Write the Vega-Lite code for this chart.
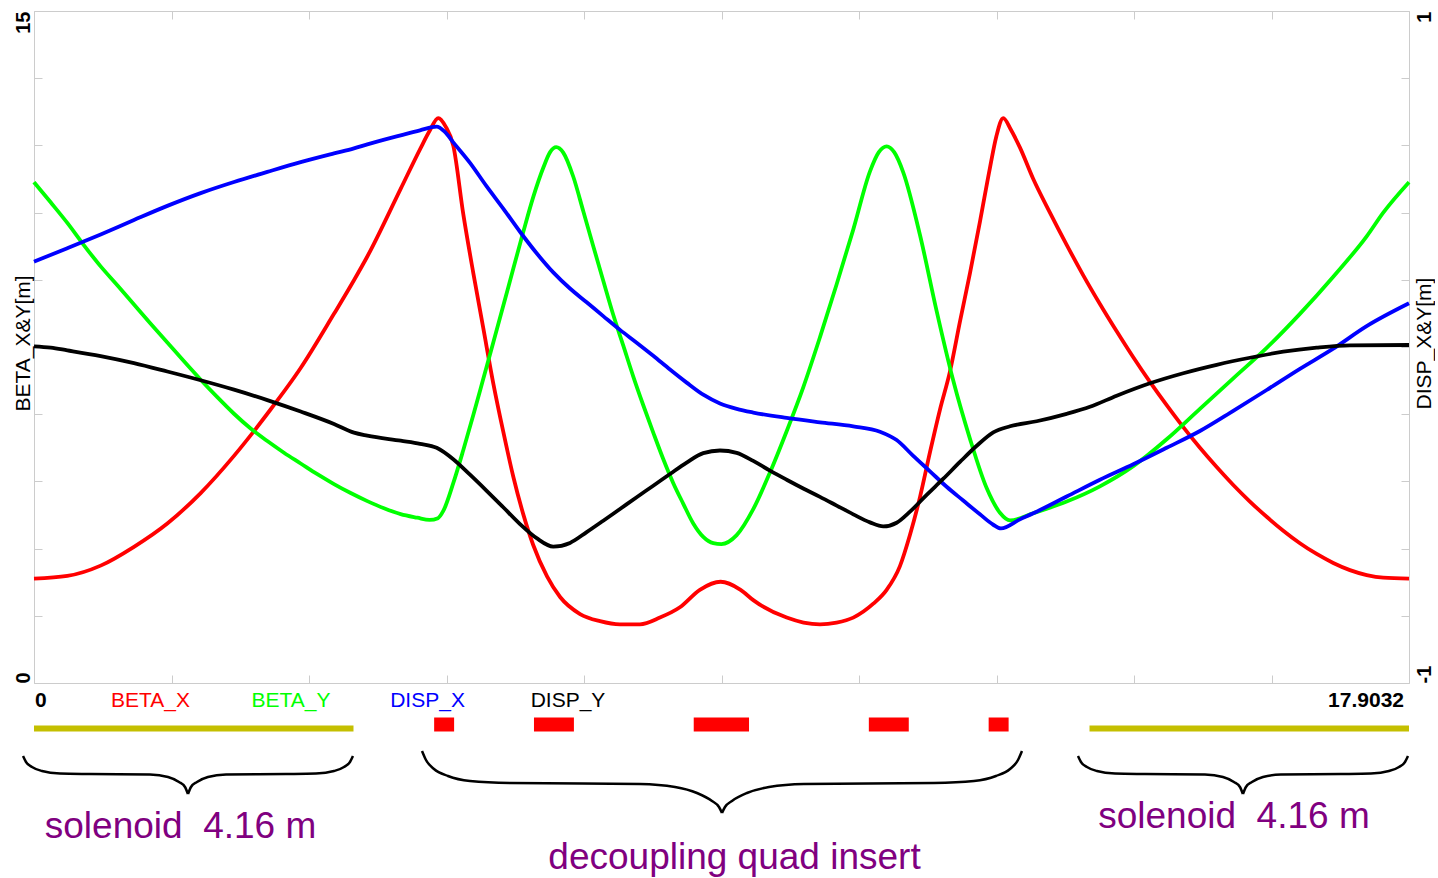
{
  "$schema": "https://vega.github.io/schema/vega-lite/v6.json",
  "background": "white",
  "padding": {"left": 12, "top": 10, "right": 0, "bottom": 0},
  "spacing": 0,
  "config": {"font": "Liberation Sans", "view": {"stroke": null}},
  "datasets": {
    "optics": [
      {"series":"BETA_X","s":0,"v":2.33},{"series":"BETA_X","s":0.434,"v":2.39},{"series":"BETA_X","s":0.868,"v":2.62},{"series":"BETA_X","s":1.302,"v":3.04},{"series":"BETA_X","s":1.736,"v":3.56},{"series":"BETA_X","s":2.17,"v":4.24},{"series":"BETA_X","s":2.604,"v":5.07},{"series":"BETA_X","s":3.038,"v":6.01},{"series":"BETA_X","s":3.472,"v":7.03},{"series":"BETA_X","s":3.906,"v":8.24},{"series":"BETA_X","s":4.166,"v":8.99},{"series":"BETA_X","s":4.34,"v":9.52},{"series":"BETA_X","s":4.774,"v":11.03},{"series":"BETA_X","s":5.034,"v":11.94},{"series":"BETA_X","s":5.15,"v":12.32},{"series":"BETA_X","s":5.264,"v":12.61},{"series":"BETA_X","s":5.36,"v":12.42},{"series":"BETA_X","s":5.46,"v":11.99},{"series":"BETA_X","s":5.59,"v":10.46},{"series":"BETA_X","s":5.72,"v":9.15},{"series":"BETA_X","s":5.85,"v":7.92},{"series":"BETA_X","s":5.98,"v":6.69},{"series":"BETA_X","s":6.11,"v":5.61},{"series":"BETA_X","s":6.24,"v":4.61},{"series":"BETA_X","s":6.37,"v":3.77},{"series":"BETA_X","s":6.5,"v":3.08},{"series":"BETA_X","s":6.68,"v":2.38},{"series":"BETA_X","s":6.85,"v":1.92},{"series":"BETA_X","s":7.11,"v":1.54},{"series":"BETA_X","s":7.37,"v":1.38},{"series":"BETA_X","s":7.63,"v":1.31},{"series":"BETA_X","s":7.89,"v":1.31},{"series":"BETA_X","s":8.15,"v":1.46},{"series":"BETA_X","s":8.41,"v":1.69},{"series":"BETA_X","s":8.67,"v":2.08},{"series":"BETA_X","s":8.94,"v":2.26},{"series":"BETA_X","s":9.2,"v":2.08},{"series":"BETA_X","s":9.365,"v":1.85},{"series":"BETA_X","s":9.8,"v":1.46},{"series":"BETA_X","s":10.02,"v":1.35},{"series":"BETA_X","s":10.234,"v":1.31},{"series":"BETA_X","s":10.45,"v":1.35},{"series":"BETA_X","s":10.667,"v":1.46},{"series":"BETA_X","s":10.928,"v":1.77},{"series":"BETA_X","s":11.102,"v":2.08},{"series":"BETA_X","s":11.275,"v":2.61},{"series":"BETA_X","s":11.406,"v":3.31},{"series":"BETA_X","s":11.536,"v":4.15},{"series":"BETA_X","s":11.666,"v":5.15},{"series":"BETA_X","s":11.796,"v":6.1},{"series":"BETA_X","s":11.926,"v":6.95},{"series":"BETA_X","s":12.057,"v":8.07},{"series":"BETA_X","s":12.187,"v":9.15},{"series":"BETA_X","s":12.317,"v":10.3},{"series":"BETA_X","s":12.447,"v":11.5},{"series":"BETA_X","s":12.53,"v":12.2},{"series":"BETA_X","s":12.62,"v":12.61},{"series":"BETA_X","s":12.72,"v":12.35},{"series":"BETA_X","s":12.838,"v":11.95},{"series":"BETA_X","s":13.011,"v":11.25},{"series":"BETA_X","s":13.228,"v":10.5},{"series":"BETA_X","s":13.446,"v":9.78},{"series":"BETA_X","s":13.662,"v":9.1},{"series":"BETA_X","s":13.879,"v":8.46},{"series":"BETA_X","s":14.097,"v":7.85},{"series":"BETA_X","s":14.313,"v":7.27},{"series":"BETA_X","s":14.53,"v":6.72},{"series":"BETA_X","s":14.748,"v":6.2},{"series":"BETA_X","s":14.964,"v":5.71},{"series":"BETA_X","s":15.181,"v":5.25},{"series":"BETA_X","s":15.399,"v":4.82},{"series":"BETA_X","s":15.615,"v":4.42},{"series":"BETA_X","s":15.832,"v":4.05},{"series":"BETA_X","s":16.05,"v":3.71},{"series":"BETA_X","s":16.266,"v":3.4},{"series":"BETA_X","s":16.483,"v":3.12},{"series":"BETA_X","s":16.701,"v":2.88},{"series":"BETA_X","s":16.917,"v":2.68},{"series":"BETA_X","s":17.134,"v":2.52},{"series":"BETA_X","s":17.352,"v":2.41},{"series":"BETA_X","s":17.568,"v":2.35},{"series":"BETA_X","s":17.9032,"v":2.33},
      {"series":"BETA_Y","s":0,"v":11.18},{"series":"BETA_Y","s":0.217,"v":10.73},{"series":"BETA_Y","s":0.434,"v":10.27},{"series":"BETA_Y","s":0.651,"v":9.77},{"series":"BETA_Y","s":0.868,"v":9.3},{"series":"BETA_Y","s":1.085,"v":8.88},{"series":"BETA_Y","s":1.302,"v":8.45},{"series":"BETA_Y","s":1.519,"v":8.02},{"series":"BETA_Y","s":1.736,"v":7.6},{"series":"BETA_Y","s":1.953,"v":7.18},{"series":"BETA_Y","s":2.17,"v":6.77},{"series":"BETA_Y","s":2.387,"v":6.38},{"series":"BETA_Y","s":2.604,"v":6.01},{"series":"BETA_Y","s":2.821,"v":5.68},{"series":"BETA_Y","s":3.038,"v":5.4},{"series":"BETA_Y","s":3.255,"v":5.14},{"series":"BETA_Y","s":3.472,"v":4.9},{"series":"BETA_Y","s":3.689,"v":4.66},{"series":"BETA_Y","s":3.906,"v":4.44},{"series":"BETA_Y","s":4.123,"v":4.24},{"series":"BETA_Y","s":4.34,"v":4.06},{"series":"BETA_Y","s":4.557,"v":3.9},{"series":"BETA_Y","s":4.774,"v":3.77},{"series":"BETA_Y","s":4.991,"v":3.69},{"series":"BETA_Y","s":5.15,"v":3.64},{"series":"BETA_Y","s":5.26,"v":3.68},{"series":"BETA_Y","s":5.329,"v":3.84},{"series":"BETA_Y","s":5.459,"v":4.46},{"series":"BETA_Y","s":5.59,"v":5.2},{"series":"BETA_Y","s":5.72,"v":5.98},{"series":"BETA_Y","s":5.85,"v":6.79},{"series":"BETA_Y","s":5.98,"v":7.6},{"series":"BETA_Y","s":6.11,"v":8.42},{"series":"BETA_Y","s":6.241,"v":9.25},{"series":"BETA_Y","s":6.371,"v":10.07},{"series":"BETA_Y","s":6.501,"v":10.85},{"series":"BETA_Y","s":6.631,"v":11.5},{"series":"BETA_Y","s":6.72,"v":11.85},{"series":"BETA_Y","s":6.8,"v":11.96},{"series":"BETA_Y","s":6.891,"v":11.84},{"series":"BETA_Y","s":7.022,"v":11.3},{"series":"BETA_Y","s":7.152,"v":10.53},{"series":"BETA_Y","s":7.282,"v":9.75},{"series":"BETA_Y","s":7.412,"v":8.98},{"series":"BETA_Y","s":7.542,"v":8.22},{"series":"BETA_Y","s":7.673,"v":7.53},{"series":"BETA_Y","s":7.803,"v":6.84},{"series":"BETA_Y","s":7.933,"v":6.2},{"series":"BETA_Y","s":8.063,"v":5.59},{"series":"BETA_Y","s":8.193,"v":5.0},{"series":"BETA_Y","s":8.324,"v":4.46},{"series":"BETA_Y","s":8.454,"v":4.0},{"series":"BETA_Y","s":8.584,"v":3.56},{"series":"BETA_Y","s":8.714,"v":3.26},{"series":"BETA_Y","s":8.845,"v":3.12},{"series":"BETA_Y","s":8.95,"v":3.1},{"series":"BETA_Y","s":9.149,"v":3.3},{"series":"BETA_Y","s":9.365,"v":3.88},{"series":"BETA_Y","s":9.583,"v":4.7},{"series":"BETA_Y","s":9.8,"v":5.62},{"series":"BETA_Y","s":10.016,"v":6.6},{"series":"BETA_Y","s":10.234,"v":7.72},{"series":"BETA_Y","s":10.451,"v":8.9},{"series":"BETA_Y","s":10.667,"v":10.12},{"series":"BETA_Y","s":10.885,"v":11.42},{"series":"BETA_Y","s":11.0,"v":11.85},{"series":"BETA_Y","s":11.102,"v":11.98},{"series":"BETA_Y","s":11.2,"v":11.85},{"series":"BETA_Y","s":11.318,"v":11.4},{"series":"BETA_Y","s":11.536,"v":10.0},{"series":"BETA_Y","s":11.753,"v":8.3},{"series":"BETA_Y","s":11.969,"v":6.75},{"series":"BETA_Y","s":12.187,"v":5.45},{"series":"BETA_Y","s":12.404,"v":4.35},{"series":"BETA_Y","s":12.577,"v":3.8},{"series":"BETA_Y","s":12.708,"v":3.63},{"series":"BETA_Y","s":13.011,"v":3.79},{"series":"BETA_Y","s":13.446,"v":4.05},{"series":"BETA_Y","s":13.879,"v":4.39},{"series":"BETA_Y","s":14.313,"v":4.84},{"series":"BETA_Y","s":14.748,"v":5.44},{"series":"BETA_Y","s":15.181,"v":6.12},{"series":"BETA_Y","s":15.615,"v":6.8},{"series":"BETA_Y","s":16.05,"v":7.48},{"series":"BETA_Y","s":16.483,"v":8.24},{"series":"BETA_Y","s":16.917,"v":9.07},{"series":"BETA_Y","s":17.352,"v":9.97},{"series":"BETA_Y","s":17.568,"v":10.5},{"series":"BETA_Y","s":17.9032,"v":11.18},
      {"series":"DISP_X","s":0,"v":0.254},{"series":"DISP_X","s":0.434,"v":0.294},{"series":"DISP_X","s":0.868,"v":0.335},{"series":"DISP_X","s":1.302,"v":0.378},{"series":"DISP_X","s":1.736,"v":0.42},{"series":"DISP_X","s":2.17,"v":0.458},{"series":"DISP_X","s":2.604,"v":0.491},{"series":"DISP_X","s":3.038,"v":0.521},{"series":"DISP_X","s":3.472,"v":0.55},{"series":"DISP_X","s":3.906,"v":0.576},{"series":"DISP_X","s":4.166,"v":0.591},{"series":"DISP_X","s":4.34,"v":0.603},{"series":"DISP_X","s":4.774,"v":0.63},{"series":"DISP_X","s":5.026,"v":0.645},{"series":"DISP_X","s":5.243,"v":0.656},{"series":"DISP_X","s":5.35,"v":0.64},{"series":"DISP_X","s":5.459,"v":0.609},{"series":"DISP_X","s":5.677,"v":0.548},{"series":"DISP_X","s":5.894,"v":0.478},{"series":"DISP_X","s":6.11,"v":0.412},{"series":"DISP_X","s":6.328,"v":0.343},{"series":"DISP_X","s":6.545,"v":0.279},{"series":"DISP_X","s":6.761,"v":0.222},{"series":"DISP_X","s":6.979,"v":0.174},{"series":"DISP_X","s":7.196,"v":0.133},{"series":"DISP_X","s":7.412,"v":0.092},{"series":"DISP_X","s":7.63,"v":0.051},{"series":"DISP_X","s":7.847,"v":0.013},{"series":"DISP_X","s":8.063,"v":-0.026},{"series":"DISP_X","s":8.281,"v":-0.067},{"series":"DISP_X","s":8.498,"v":-0.106},{"series":"DISP_X","s":8.714,"v":-0.142},{"series":"DISP_X","s":8.932,"v":-0.168},{"series":"DISP_X","s":9.149,"v":-0.184},{"series":"DISP_X","s":9.365,"v":-0.195},{"series":"DISP_X","s":9.8,"v":-0.211},{"series":"DISP_X","s":10.234,"v":-0.224},{"series":"DISP_X","s":10.667,"v":-0.236},{"series":"DISP_X","s":11.015,"v":-0.252},{"series":"DISP_X","s":11.232,"v":-0.277},{"series":"DISP_X","s":11.448,"v":-0.324},{"series":"DISP_X","s":11.666,"v":-0.37},{"series":"DISP_X","s":11.883,"v":-0.416},{"series":"DISP_X","s":12.099,"v":-0.457},{"series":"DISP_X","s":12.317,"v":-0.498},{"series":"DISP_X","s":12.49,"v":-0.529},{"series":"DISP_X","s":12.59,"v":-0.54},{"series":"DISP_X","s":12.838,"v":-0.513},{"series":"DISP_X","s":13.011,"v":-0.495},{"series":"DISP_X","s":13.446,"v":-0.445},{"series":"DISP_X","s":13.879,"v":-0.395},{"series":"DISP_X","s":14.313,"v":-0.349},{"series":"DISP_X","s":14.748,"v":-0.3},{"series":"DISP_X","s":15.181,"v":-0.25},{"series":"DISP_X","s":15.615,"v":-0.19},{"series":"DISP_X","s":16.05,"v":-0.128},{"series":"DISP_X","s":16.483,"v":-0.065},{"series":"DISP_X","s":16.917,"v":-0.005},{"series":"DISP_X","s":17.352,"v":0.062},{"series":"DISP_X","s":17.9032,"v":0.13},
      {"series":"DISP_Y","s":0,"v":0.002},{"series":"DISP_Y","s":0.217,"v":-0.002},{"series":"DISP_Y","s":0.434,"v":-0.01},{"series":"DISP_Y","s":0.868,"v":-0.027},{"series":"DISP_Y","s":1.302,"v":-0.048},{"series":"DISP_Y","s":1.736,"v":-0.073},{"series":"DISP_Y","s":2.17,"v":-0.099},{"series":"DISP_Y","s":2.604,"v":-0.127},{"series":"DISP_Y","s":3.038,"v":-0.158},{"series":"DISP_Y","s":3.472,"v":-0.192},{"series":"DISP_Y","s":3.906,"v":-0.229},{"series":"DISP_Y","s":4.166,"v":-0.255},{"series":"DISP_Y","s":4.34,"v":-0.264},{"series":"DISP_Y","s":4.774,"v":-0.279},{"series":"DISP_Y","s":5.026,"v":-0.288},{"series":"DISP_Y","s":5.243,"v":-0.3},{"series":"DISP_Y","s":5.459,"v":-0.334},{"series":"DISP_Y","s":5.677,"v":-0.38},{"series":"DISP_Y","s":5.894,"v":-0.428},{"series":"DISP_Y","s":6.11,"v":-0.477},{"series":"DISP_Y","s":6.328,"v":-0.527},{"series":"DISP_Y","s":6.545,"v":-0.569},{"series":"DISP_Y","s":6.761,"v":-0.594},{"series":"DISP_Y","s":6.979,"v":-0.583},{"series":"DISP_Y","s":7.196,"v":-0.551},{"series":"DISP_Y","s":7.412,"v":-0.517},{"series":"DISP_Y","s":7.63,"v":-0.482},{"series":"DISP_Y","s":7.847,"v":-0.447},{"series":"DISP_Y","s":8.063,"v":-0.413},{"series":"DISP_Y","s":8.281,"v":-0.378},{"series":"DISP_Y","s":8.498,"v":-0.344},{"series":"DISP_Y","s":8.714,"v":-0.316},{"series":"DISP_Y","s":8.932,"v":-0.308},{"series":"DISP_Y","s":9.149,"v":-0.315},{"series":"DISP_Y","s":9.365,"v":-0.339},{"series":"DISP_Y","s":9.583,"v":-0.368},{"series":"DISP_Y","s":9.8,"v":-0.395},{"series":"DISP_Y","s":10.016,"v":-0.421},{"series":"DISP_Y","s":10.234,"v":-0.446},{"series":"DISP_Y","s":10.451,"v":-0.472},{"series":"DISP_Y","s":10.667,"v":-0.498},{"series":"DISP_Y","s":10.885,"v":-0.522},{"series":"DISP_Y","s":11.058,"v":-0.534},{"series":"DISP_Y","s":11.232,"v":-0.523},{"series":"DISP_Y","s":11.406,"v":-0.49},{"series":"DISP_Y","s":11.623,"v":-0.44},{"series":"DISP_Y","s":11.84,"v":-0.392},{"series":"DISP_Y","s":12.057,"v":-0.342},{"series":"DISP_Y","s":12.275,"v":-0.294},{"series":"DISP_Y","s":12.49,"v":-0.254},{"series":"DISP_Y","s":12.708,"v":-0.236},{"series":"DISP_Y","s":13.055,"v":-0.221},{"series":"DISP_Y","s":13.446,"v":-0.199},{"series":"DISP_Y","s":13.749,"v":-0.178},{"series":"DISP_Y","s":14.097,"v":-0.145},{"series":"DISP_Y","s":14.53,"v":-0.108},{"series":"DISP_Y","s":14.964,"v":-0.078},{"series":"DISP_Y","s":15.399,"v":-0.053},{"series":"DISP_Y","s":15.832,"v":-0.032},{"series":"DISP_Y","s":16.266,"v":-0.014},{"series":"DISP_Y","s":16.701,"v":-0.002},{"series":"DISP_Y","s":17.134,"v":0.005},{"series":"DISP_Y","s":17.9032,"v":0.006}
    ],
    "legendrow": [
      {"series":"BETA_X","s":1.517,"row":23},
      {"series":"BETA_Y","s":3.346,"row":23},
      {"series":"DISP_X","s":5.124,"row":23},
      {"series":"DISP_Y","s":6.953,"row":23}
    ],
    "ends": [
      {"label":"0","s":0,"row":23,"side":"start"},
      {"label":"17.9032","s":17.9032,"row":23,"side":"end"}
    ],
    "quads": [
      {"s":5.21,"s2":5.47,"row":33.5,"row2":47.5},
      {"s":6.51,"s2":7.03,"row":33.5,"row2":47.5},
      {"s":8.59,"s2":9.31,"row":33.5,"row2":47.5},
      {"s":10.87,"s2":11.39,"row":33.5,"row2":47.5},
      {"s":12.43,"s2":12.69,"row":33.5,"row2":47.5}
    ],
    "solenoids": [
      {"s":0,"s2":4.16,"row":44.5},
      {"s":13.7432,"s2":17.9032,"row":44.5}
    ],
    "braces": [
      {"part":"L1","s":-0.143,"row":72},{"part":"L1","s":-0.104,"row":78},{"part":"L1","s":-0.026,"row":83},{"part":"L1","s":0.104,"row":87},{"part":"L1","s":0.339,"row":89.5},{"part":"L1","s":0.729,"row":90},{"part":"L1","s":1.51,"row":90.5},{"part":"L1","s":1.745,"row":93},{"part":"L1","s":1.888,"row":98},{"part":"L1","s":1.966,"row":103},{"part":"L1","s":2.005,"row":110},
      {"part":"L2","s":2.005,"row":110},{"part":"L2","s":2.044,"row":103},{"part":"L2","s":2.122,"row":98},{"part":"L2","s":2.265,"row":93},{"part":"L2","s":2.5,"row":90.5},{"part":"L2","s":3.281,"row":90},{"part":"L2","s":3.672,"row":89.5},{"part":"L2","s":3.906,"row":87},{"part":"L2","s":4.036,"row":83},{"part":"L2","s":4.114,"row":78},{"part":"L2","s":4.153,"row":72},
      {"part":"M1","s":5.052,"row":67},{"part":"M1","s":5.104,"row":76},{"part":"M1","s":5.208,"row":85},{"part":"M1","s":5.39,"row":92},{"part":"M1","s":5.677,"row":97},{"part":"M1","s":6.198,"row":99},{"part":"M1","s":7.89,"row":100},{"part":"M1","s":8.346,"row":103},{"part":"M1","s":8.632,"row":109},{"part":"M1","s":8.828,"row":117},{"part":"M1","s":8.919,"row":123},{"part":"M1","s":8.958,"row":129},
      {"part":"M2","s":8.958,"row":129},{"part":"M2","s":8.997,"row":123},{"part":"M2","s":9.088,"row":117},{"part":"M2","s":9.283,"row":109},{"part":"M2","s":9.57,"row":103},{"part":"M2","s":10.025,"row":100},{"part":"M2","s":11.718,"row":99},{"part":"M2","s":12.239,"row":97},{"part":"M2","s":12.525,"row":92},{"part":"M2","s":12.708,"row":85},{"part":"M2","s":12.812,"row":76},{"part":"M2","s":12.864,"row":67},
      {"part":"R1","s":13.593,"row":72},{"part":"R1","s":13.632,"row":78},{"part":"R1","s":13.71,"row":83},{"part":"R1","s":13.84,"row":87},{"part":"R1","s":14.075,"row":89.5},{"part":"R1","s":14.465,"row":90},{"part":"R1","s":15.246,"row":90.5},{"part":"R1","s":15.481,"row":93},{"part":"R1","s":15.624,"row":98},{"part":"R1","s":15.702,"row":103},{"part":"R1","s":15.741,"row":110},
      {"part":"R2","s":15.741,"row":110},{"part":"R2","s":15.78,"row":103},{"part":"R2","s":15.858,"row":98},{"part":"R2","s":16.002,"row":93},{"part":"R2","s":16.236,"row":90.5},{"part":"R2","s":17.017,"row":90},{"part":"R2","s":17.408,"row":89.5},{"part":"R2","s":17.642,"row":87},{"part":"R2","s":17.773,"row":83},{"part":"R2","s":17.851,"row":78},{"part":"R2","s":17.89,"row":72}
    ],
    "notes": [
      {"label":"solenoid\u00a0 4.16 m","s":1.908,"row":154},
      {"label":"decoupling quad insert","s":9.121,"row":185},
      {"label":"solenoid\u00a0 4.16 m","s":15.624,"row":144}
    ]
  },
  "vconcat": [
    {
      "width": 1375,
      "height": 672,
      "view": {"stroke": "#cccccc", "strokeWidth": 1},
      "data": {"name": "optics"},
      "layer": [
        {
          "transform": [{"filter": "datum.series == 'BETA_X' || datum.series == 'BETA_Y'"}],
          "mark": {"type": "line", "strokeWidth": 3.8, "interpolate": "monotone"},
          "encoding": {
            "x": {"field": "s", "type": "quantitative",
              "scale": {"domain": [0, 17.9032], "nice": false, "zero": false},
              "axis": {"orient": "bottom", "values": [0,1.79032,3.58064,5.37096,7.16128,8.9516,10.74192,12.53224,14.32256,16.11288,17.9032], "labels": false, "tickSize": -8, "tickColor": "#cccccc", "tickWidth": 1, "domain": false, "grid": false, "title": null}},
            "y": {"field": "v", "type": "quantitative",
              "scale": {"domain": [0, 15], "nice": false, "zero": false},
              "axis": {"orient": "left", "values": [0,1.5,3,4.5,6,7.5,9,10.5,12,13.5,15], "tickSize": -8, "tickColor": "#cccccc", "tickWidth": 1, "domain": false, "grid": false,
                "labelExpr": "datum.value == 15 ? '15' : (datum.value == 0 ? '0' : '')",
                "labelAngle": 270, "labelAlign": {"condition": {"test": "datum.value == 15", "value": "right"}, "value": "left"},
                "labelBaseline": "middle", "labelPadding": 18.5, "labelFontSize": 20, "labelFontWeight": "bold", "labelColor": "black", "labelOverlap": false, "labelBound": false, "labelFlush": false,
                "title": "BETA_X&Y[m]", "titleFontSize": 21, "titleFontWeight": "normal", "titleColor": "black", "titleAngle": 270, "titleX": -10.5, "titleY": 332, "titleAlign": "center", "titleBaseline": "middle"}},
            "color": {"field": "series", "type": "nominal", "scale": {"domain": ["BETA_X","BETA_Y","DISP_X","DISP_Y"], "range": ["#ff0000","#00ff00","#0000ff","#000000"]}, "legend": null}
          }
        },
        {
          "transform": [{"filter": "datum.series == 'DISP_X' || datum.series == 'DISP_Y'"}],
          "mark": {"type": "line", "strokeWidth": 3.8, "interpolate": "monotone"},
          "encoding": {
            "x": {"field": "s", "type": "quantitative",
              "scale": {"domain": [0, 17.9032], "nice": false, "zero": false},
              "axis": {"orient": "top", "values": [0,1.79032,3.58064,5.37096,7.16128,8.9516,10.74192,12.53224,14.32256,16.11288,17.9032], "labels": false, "tickSize": -8, "tickColor": "#cccccc", "tickWidth": 1, "domain": false, "grid": false, "title": null}},
            "y": {"field": "v", "type": "quantitative",
              "scale": {"domain": [-1, 1], "nice": false, "zero": false},
              "axis": {"orient": "right", "values": [-1,-0.8,-0.6,-0.4,-0.2,0,0.2,0.4,0.6,0.8,1], "tickSize": -8, "tickColor": "#cccccc", "tickWidth": 1, "domain": false, "grid": false,
                "labelExpr": "datum.value == 1 ? '1' : (datum.value == -1 ? '-1' : '')",
                "labelAngle": 270, "labelAlign": {"condition": {"test": "datum.value == 1", "value": "right"}, "value": "left"},
                "labelBaseline": "middle", "labelPadding": 23, "labelFontSize": 20, "labelFontWeight": "bold", "labelColor": "black", "labelOverlap": false, "labelBound": false, "labelFlush": false,
                "title": "DISP_X&Y[m]", "titleFontSize": 21, "titleFontWeight": "normal", "titleColor": "black", "titleAngle": 270, "titleX": 15, "titleY": 332, "titleAlign": "center", "titleBaseline": "middle"}},
            "color": {"field": "series", "type": "nominal", "scale": {"domain": ["BETA_X","BETA_Y","DISP_X","DISP_Y"], "range": ["#ff0000","#00ff00","#0000ff","#000000"]}, "legend": null}
          }
        }
      ],
      "resolve": {"scale": {"y": "independent"}, "axis": {"x": "independent", "y": "independent"}}
    },
    {
      "width": 1375,
      "height": 196,
      "view": {"stroke": null},
      "encoding": {
        "x": {"field": "s", "type": "quantitative", "scale": {"domain": [0, 17.9032], "nice": false, "zero": false}, "axis": null},
        "y": {"field": "row", "type": "quantitative", "scale": {"domain": [0, 196], "reverse": true, "nice": false, "zero": false}, "axis": null}
      },
      "layer": [
        {
          "data": {"name": "legendrow"},
          "mark": {"type": "text", "align": "center", "baseline": "alphabetic", "fontSize": 21, "font": "Liberation Sans"},
          "encoding": {
            "text": {"field": "series"},
            "color": {"field": "series", "type": "nominal", "scale": {"domain": ["BETA_X","BETA_Y","DISP_X","DISP_Y"], "range": ["#ff0000","#00ff00","#0000ff","#000000"]}, "legend": null}
          }
        },
        {
          "data": {"name": "ends"},
          "transform": [{"filter": "datum.side == 'start'"}],
          "mark": {"type": "text", "align": "left", "baseline": "alphabetic", "fontSize": 21, "fontWeight": "bold", "color": "black", "dx": 1},
          "encoding": {"text": {"field": "label"}}
        },
        {
          "data": {"name": "ends"},
          "transform": [{"filter": "datum.side == 'end'"}],
          "mark": {"type": "text", "align": "right", "baseline": "alphabetic", "fontSize": 21, "fontWeight": "bold", "color": "black", "dx": -5},
          "encoding": {"text": {"field": "label"}}
        },
        {
          "data": {"name": "solenoids"},
          "mark": {"type": "rule", "color": "#c4bf00", "strokeWidth": 6},
          "encoding": {"x2": {"field": "s2"}}
        },
        {
          "data": {"name": "quads"},
          "mark": {"type": "rect", "color": "#ff0000"},
          "encoding": {"x2": {"field": "s2"}, "y2": {"field": "row2"}}
        },
        {
          "data": {"name": "braces"},
          "mark": {"type": "line", "color": "black", "strokeWidth": 2.5, "interpolate": "monotone"},
          "encoding": {"detail": {"field": "part", "type": "nominal"}, "order": {"field": "s", "type": "quantitative"}}
        },
        {
          "data": {"name": "notes"},
          "mark": {"type": "text", "align": "center", "baseline": "alphabetic", "fontSize": 37, "color": "#800080", "font": "Liberation Sans"},
          "encoding": {"text": {"field": "label"}}
        }
      ]
    }
  ]
}
